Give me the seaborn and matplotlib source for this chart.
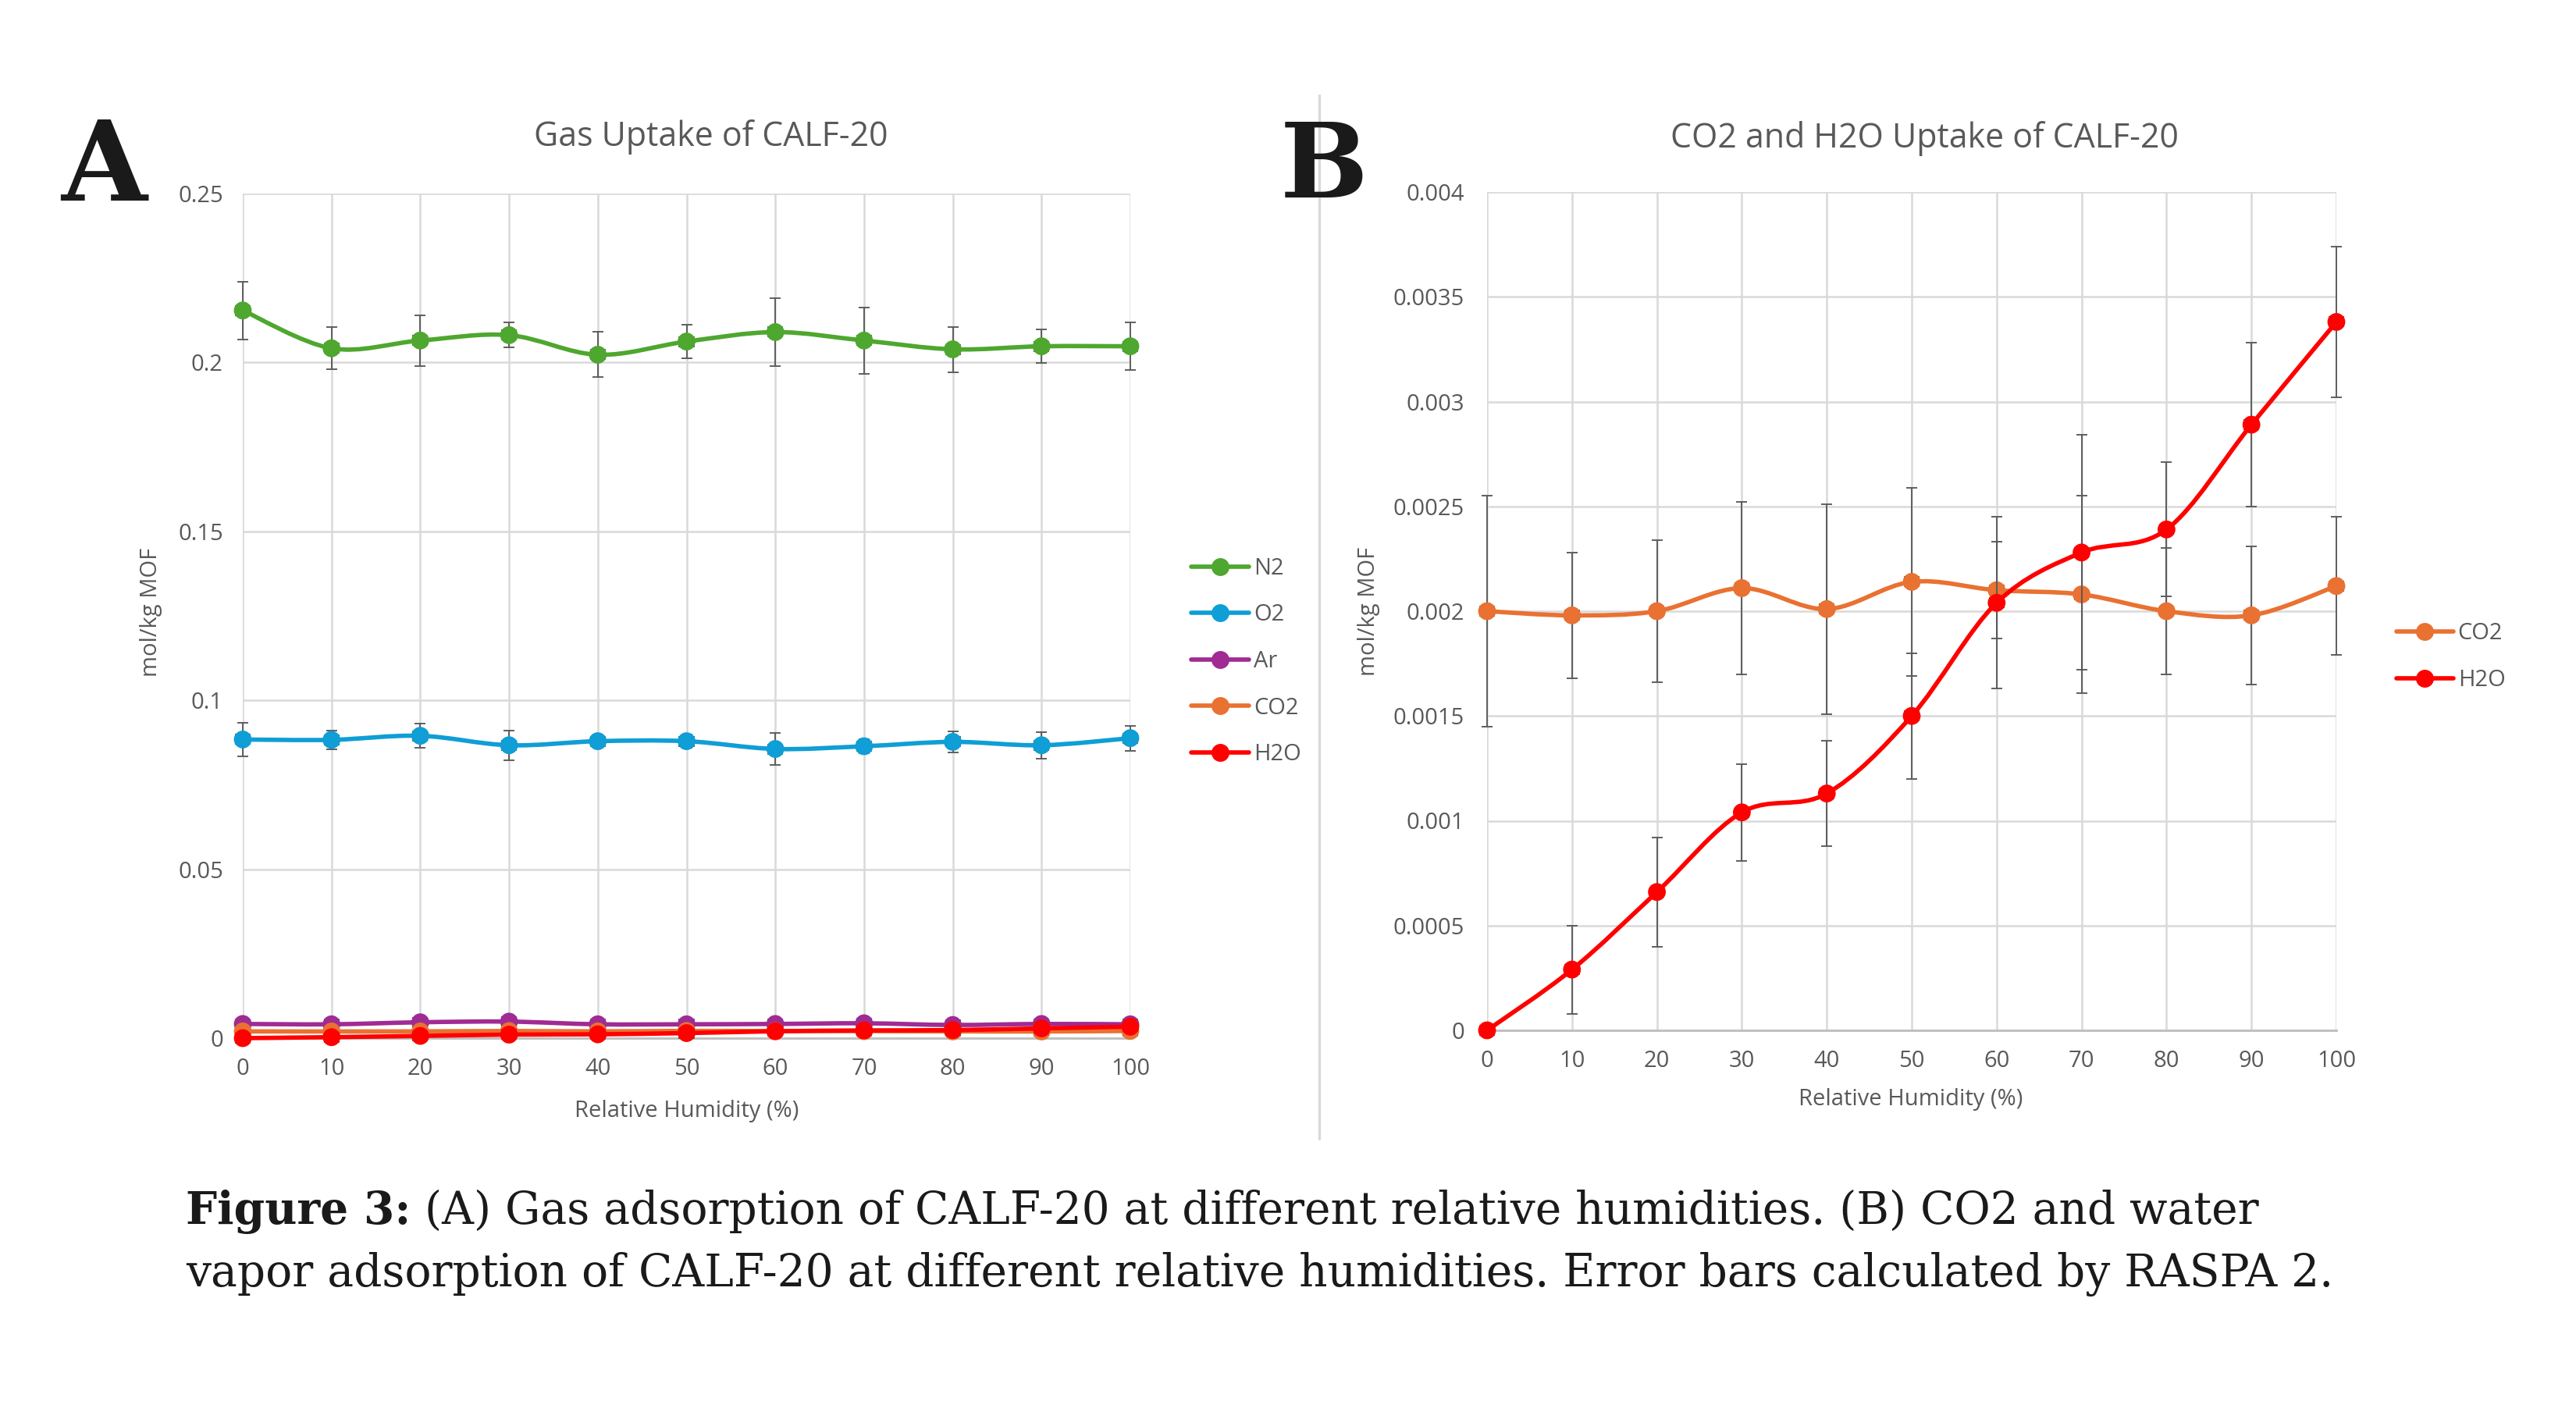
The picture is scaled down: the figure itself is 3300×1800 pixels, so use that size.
import numpy as np
import pandas as pd
import matplotlib
matplotlib.use("Agg")
import matplotlib.pyplot as plt
import seaborn as sns
from matplotlib.path import Path
from matplotlib.patches import PathPatch
from matplotlib.lines import Line2D

# ---------------- data ----------------
humidity = [0, 10, 20, 30, 40, 50, 60, 70, 80, 90, 100]
humidity_err = [0.8, 0.8, 0.8, 0.8, 0.8, 0.8, 0.8, 0.8, 0.8, 0.8, 0.8]

n2 = [0.2154, 0.2042, 0.2065, 0.2081, 0.2023, 0.2062, 0.2090, 0.2065, 0.2039, 0.2048, 0.2048]
n2_err = [0.0085, 0.0062, 0.0075, 0.0037, 0.0067, 0.0050, 0.0100, 0.0098, 0.0067, 0.0050, 0.0071]
o2 = [0.0884, 0.0883, 0.0895, 0.0867, 0.0879, 0.0879, 0.0856, 0.0864, 0.0877, 0.0867, 0.0888]
o2_err = [0.0049, 0.0028, 0.0036, 0.0044, 0.0012, 0.0020, 0.0047, 0.0020, 0.0031, 0.0039, 0.0037]
ar = [0.0042, 0.0041, 0.0047, 0.0049, 0.0041, 0.0041, 0.0042, 0.0044, 0.0039, 0.0042, 0.0041]
ar_err = [0.0005, 0.0004, 0.0006, 0.0005, 0.0004, 0.0005, 0.0004, 0.0005, 0.0004, 0.0005, 0.0004]
co2 = [0.00200, 0.00198, 0.00200, 0.00211, 0.00201, 0.00214, 0.00210, 0.00208, 0.00200, 0.00198, 0.00212]
co2_err = [0.00055, 0.00030, 0.00034, 0.00041, 0.00050, 0.00045, 0.00023, 0.00047, 0.00030, 0.00033, 0.00033]
h2o = [0.0, 0.00029, 0.00066, 0.00104, 0.00113, 0.00150, 0.00204, 0.00228, 0.00239, 0.00289, 0.00338]
h2o_err = [0.0, 0.00021, 0.00026, 0.00023, 0.00025, 0.00030, 0.00041, 0.00056, 0.00032, 0.00039, 0.00036]

series_a = ["N2", "O2", "Ar", "CO2", "H2O"]
series_b = ["CO2", "H2O"]

x_ticks = [0, 10, 20, 30, 40, 50, 60, 70, 80, 90, 100]
y_ticks_a = [0, 0.05, 0.1, 0.15, 0.2, 0.25]
y_ticklabels_a = ["0", "0.05", "0.1", "0.15", "0.2", "0.25"]
y_ticks_b = [0, 0.0005, 0.001, 0.0015, 0.002, 0.0025, 0.003, 0.0035, 0.004]
y_ticklabels_b = ["0", "0.0005", "0.001", "0.0015", "0.002", "0.0025", "0.003", "0.0035", "0.004"]

title_a = "Gas Uptake of CALF-20"
title_b = "CO2 and H2O Uptake of CALF-20"
ylabel = "mol/kg MOF"
xlabel = "Relative Humidity (%)"
caption_bold = "Figure 3:"
caption_line1 = " (A) Gas adsorption of CALF-20 at different relative humidities. (B) CO2 and water"
caption_line2 = "vapor adsorption of CALF-20 at different relative humidities. Error bars calculated by RASPA 2."

values = {"N2": n2, "O2": o2, "Ar": ar, "CO2": co2, "H2O": h2o}
errors = {"N2": n2_err, "O2": o2_err, "Ar": ar_err, "CO2": co2_err, "H2O": h2o_err}
colors = {"N2": "#4EA72E", "O2": "#0F9ED5", "Ar": "#A02B93", "CO2": "#E97132", "H2O": "#FF0000"}

rows = []
for s in series_a:
    for h, v, e in zip(humidity, values[s], errors[s]):
        rows.append({"series": s, "humidity": h, "value": v, "err": e})
df = pd.DataFrame(rows)

# ---------------- style ----------------
sns.set_theme(style="white")
plt.rcParams["font.family"] = ["Open Sans", "DejaVu Sans"]
TXT = "#595959"
GRID = "#d9d9d9"

W, H = 3300, 1800
fig = plt.figure(figsize=(11, 6), dpi=300)
fig.patch.set_facecolor("white")


def fx(px):
    return px / W


def fy(py):
    return 1 - py / H


axA = fig.add_axes([fx(311), fy(1330), fx(1448) - fx(311), fy(248) - fy(1330)])
axB = fig.add_axes([fx(1905), fy(1320), fx(2993) - fx(1905), fy(246) - fy(1320)])


def smooth_path(x, y, t=1 / 6):
    pts = np.column_stack([x, y]).astype(float)
    n = len(pts)
    verts = [pts[0]]
    codes = [Path.MOVETO]
    for i in range(n - 1):
        p0 = pts[max(i - 1, 0)]
        p1 = pts[i]
        p2 = pts[i + 1]
        p3 = pts[min(i + 2, n - 1)]
        verts += [p1 + (p2 - p0) * t, p2 - (p3 - p1) * t, p2]
        codes += [Path.CURVE4] * 3
    return Path(verts, codes)


def draw_panel(ax, series, ylim, yticks, yticklabels, title, title_x, title_y):
    for k, s in enumerate(series):
        d = df[df["series"] == s]
        c = colors[s]
        z = 3 + k * 0.1
        ax.errorbar(d["humidity"], d["value"], yerr=d["err"], xerr=humidity_err,
                    fmt="none", ecolor=TXT, elinewidth=0.45, capsize=1.6,
                    capthick=0.45, zorder=z - 0.05, clip_on=False)
        ax.add_patch(PathPatch(smooth_path(d["humidity"], d["value"]),
                               facecolor="none", edgecolor=c, lw=1.35,
                               zorder=z, capstyle="round", joinstyle="round",
                               clip_on=False))
        sns.scatterplot(data=d, x="humidity", y="value", color=c, s=30,
                        edgecolor="none", linewidth=0, ax=ax, legend=False,
                        zorder=z + 0.05, clip_on=False)
    ax.set_xlim(0, 100)
    ax.set_ylim(*ylim)
    ax.set_xticks(x_ticks)
    ax.set_xticklabels([str(v) for v in x_ticks])
    ax.set_yticks(yticks)
    ax.set_yticklabels(yticklabels)
    ax.grid(True, color=GRID, lw=0.6)
    ax.set_axisbelow(True)
    for side in ["top", "right", "left"]:
        ax.spines[side].set_visible(False)
    ax.spines["bottom"].set_color("#bfbfbf")
    ax.spines["bottom"].set_linewidth(0.7)
    ax.tick_params(axis="both", length=0, labelsize=7, colors=TXT, pad=6)
    ax.set_title(title, fontsize=10.3, color=TXT, x=title_x, y=title_y,
                 va="baseline", pad=0)
    ax.set_xlabel(xlabel, fontsize=7, color=TXT, va="center")
    ax.set_ylabel(ylabel, fontsize=7, color=TXT, va="center")


draw_panel(axA, series_a, (0, 0.25), y_ticks_a, y_ticklabels_a, title_a,
           (911 - 311) / 1137, 1 + (248 - 187) / 1082)
draw_panel(axB, series_b, (0, 0.004), y_ticks_b, y_ticklabels_b, title_b,
           (2465 - 1905) / 1088, 1 + (246 - 189) / 1074)

axA.yaxis.set_label_coords(-0.103, 0.504)
axA.xaxis.set_label_coords(0.5, -0.086)
axB.yaxis.set_label_coords(-0.139, 0.5)
axB.xaxis.set_label_coords(0.499, -0.082)
axB.yaxis.set_tick_params(pad=7)


# legends
def make_handles(series):
    return [Line2D([], [], color=colors[s], lw=1.35, marker="o", markersize=5.5,
                   markeredgewidth=0) for s in series]


axA.legend(make_handles(series_a), series_a, loc="center left",
           bbox_to_anchor=(fx(1526), fy(847.5)), bbox_transform=fig.transFigure,
           frameon=False, borderpad=0, borderaxespad=0, fontsize=7,
           handlelength=2.55, handletextpad=0.2, labelspacing=1.05,
           labelcolor=TXT)
axB.legend(make_handles(series_b), series_b, loc="center left",
           bbox_to_anchor=(fx(3070), fy(841.5)), bbox_transform=fig.transFigure,
           frameon=False, borderpad=0, borderaxespad=0, fontsize=7,
           handlelength=2.5, handletextpad=0.2, labelspacing=1.05,
           labelcolor=TXT)

# panel letters
fig.text(fx(78), fy(257), "A", fontsize=34, fontweight="bold",
         family="DejaVu Serif", color="#1a1a1a", ha="left", va="baseline")
fig.text(fx(1640), fy(253), "B", fontsize=32, fontweight="bold",
         family="DejaVu Serif", color="#1a1a1a", ha="left", va="baseline")

# divider
fig.add_artist(Line2D([fx(1690), fx(1690)], [fy(122), fy(1459)],
                      transform=fig.transFigure, color=GRID, lw=0.8))

# caption
cap_size = 13.6
t1 = fig.text(fx(238), fy(1568), caption_bold, fontsize=cap_size, fontweight="bold",
              family="DejaVu Serif", color="#1a1a1a", ha="left", va="baseline")
fig.canvas.draw()
bb = t1.get_window_extent(renderer=fig.canvas.get_renderer())
fig.text(bb.x1 / W, fy(1568), caption_line1, fontsize=cap_size,
         family="DejaVu Serif", color="#1a1a1a", ha="left", va="baseline")
fig.text(fx(238), fy(1648), caption_line2, fontsize=cap_size,
         family="DejaVu Serif", color="#1a1a1a", ha="left", va="baseline")

fig.savefig("out.png", dpi=300, facecolor="white")
